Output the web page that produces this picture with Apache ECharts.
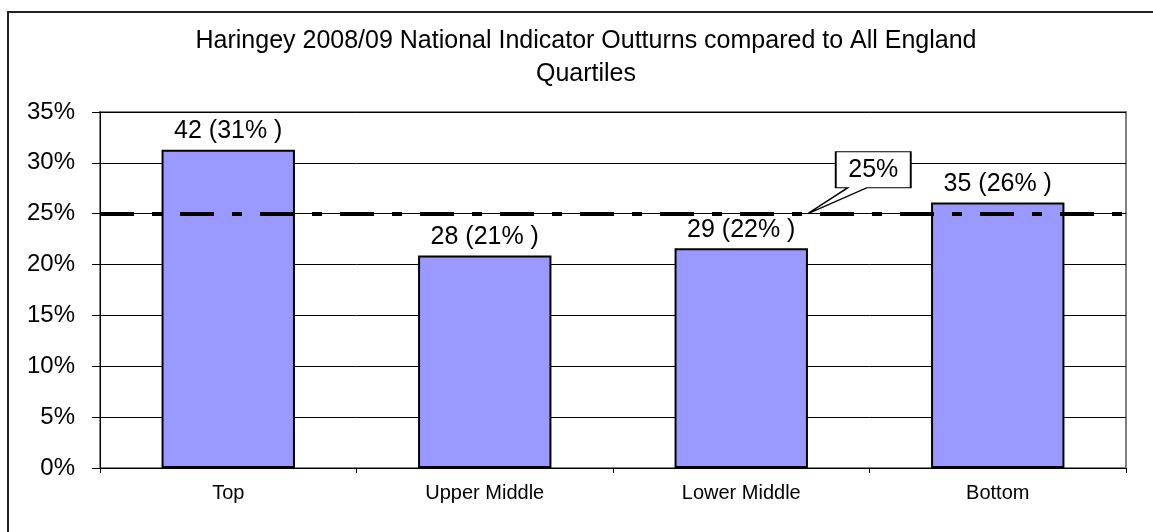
<!DOCTYPE html>
<html>
<head>
    <meta charset="utf-8" />
    <title>Haringey 2008/09 quartiles</title>
    <script src="https://cdn.jsdelivr.net/npm/echarts@6/dist/echarts.min.js"></script>
    <style>
        html, body {
            width: 100%;
            height: 100%;
            margin: 0px;
            padding: 0px;
            background: #fff;
        }
        #main {
            width: 1153px;
            height: 532px;
        }
    </style>
</head>
<body>
    <div id="main"></div>
</body>
<script type="text/javascript">
    // values
    var quartiles = ['Top', 'Upper Middle', 'Lower Middle', 'Bottom'];
    var counts = [42, 28, 29, 35];
    var shares = [31.3, 20.9, 21.6, 26.1];
    var labelShares = [31, 21, 22, 26];
    var benchmark = 25;
    var yTicks = [0, 5, 10, 15, 20, 25, 30, 35];

    var font = "'Liberation Sans', Arial, sans-serif";
    var myChart = echarts.init(document.getElementById('main'));

    // callout box with a tail; tip sits at bottom-left of the path
    var callout = 'path://M28 0 L103 0 L103 36 L59 36 L0 62 L40 36 L28 36 Z';

    myChart.setOption({
        animation: false,
        graphic: [
            {
                type: 'rect',
                shape: { x: 8, y: 12, width: 1170, height: 560 },
                style: { fill: 'none', stroke: '#222', lineWidth: 2 },
                silent: true
            },
            {
                type: 'text',
                x: 586,
                y: 25,
                style: {
                    text: 'Haringey 2008/09 National Indicator Outturns compared to All England\nQuartiles',
                    font: '25px ' + font,
                    fill: '#000',
                    align: 'center',
                    verticalAlign: 'top',
                    lineHeight: 33
                },
                silent: true
            }
        ],
        grid: {
            left: 100,
            right: 27,
            top: 112,
            bottom: 64,
            show: true,
            borderColor: '#808080',
            borderWidth: 2
        },
        xAxis: {
            type: 'category',
            data: quartiles,
            axisLine: { lineStyle: { color: '#000', width: 1 } },
            axisTick: { show: true, length: 5, lineStyle: { color: '#000' } },
            axisLabel: {
                color: '#000',
                fontSize: 20,
                fontFamily: font,
                margin: 15
            },
            splitLine: { show: false }
        },
        yAxis: {
            type: 'value',
            min: yTicks[0],
            max: yTicks[yTicks.length - 1],
            interval: 5,
            axisLine: { show: true, lineStyle: { color: '#000', width: 1 } },
            axisTick: { show: true, length: 8, lineStyle: { color: '#000' } },
            axisLabel: {
                color: '#000',
                fontSize: 24,
                fontFamily: font,
                margin: 25,
                formatter: '{value}%'
            },
            splitLine: { show: true, lineStyle: { color: '#000', width: 1 } }
        },
        series: [{
            type: 'bar',
            data: shares,
            barWidth: '52%',
            itemStyle: {
                color: '#9999FF',
                borderColor: '#000',
                borderWidth: 2
            },
            label: {
                show: true,
                position: 'top',
                distance: 6,
                color: '#000',
                fontSize: 25,
                fontFamily: font,
                formatter: function (p) {
                    return counts[p.dataIndex] + ' (' + labelShares[p.dataIndex] + '% )';
                }
            },
            markLine: {
                silent: true,
                symbol: ['none', 'none'],
                label: { show: false },
                lineStyle: {
                    color: '#000',
                    width: 4,
                    type: [34, 18, 10, 18]
                },
                data: [{ yAxis: benchmark }]
            },
            markPoint: {
                silent: true,
                symbol: callout,
                symbolSize: [103, 62],
                symbolOffset: [118, -31],
                itemStyle: {
                    color: '#fff',
                    borderColor: '#000',
                    borderWidth: 1.5
                },
                label: {
                    show: true,
                    offset: [14, -13],
                    color: '#000',
                    fontSize: 25,
                    fontFamily: font,
                    formatter: benchmark + '%'
                },
                data: [{ coord: ['Lower Middle', benchmark] }]
            }
        }]
    });

    window.addEventListener('resize', function () {
        myChart.resize();
    });
</script>
</html>
